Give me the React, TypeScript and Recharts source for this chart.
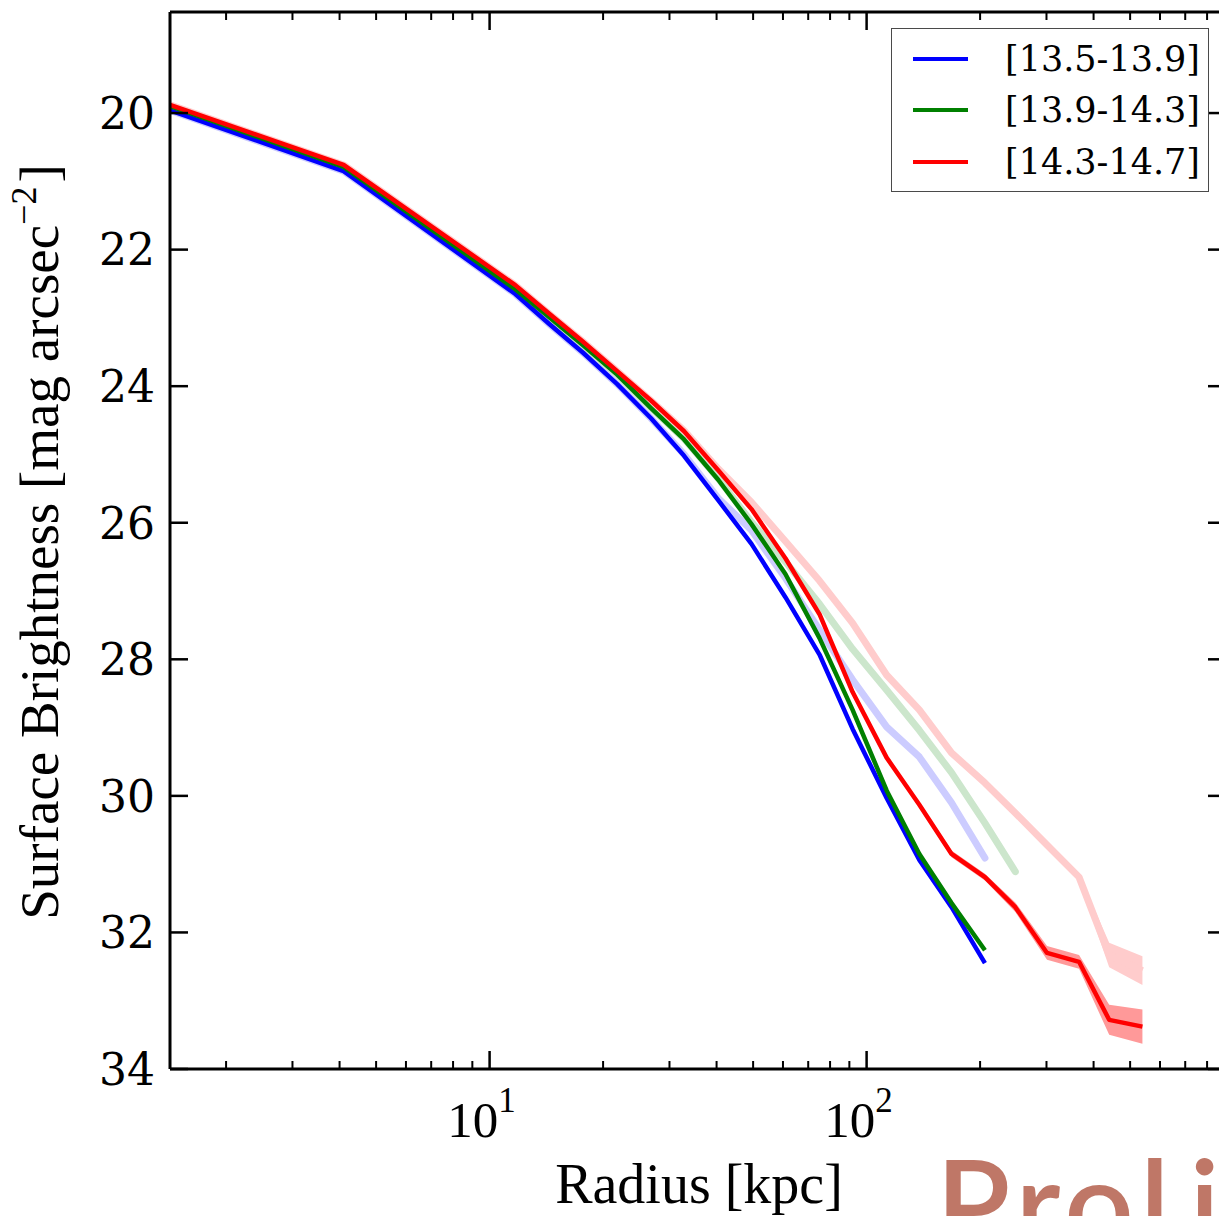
import React from "react"
import { ComposedChart, Line, Area, XAxis, YAxis, Legend } from "recharts"

// radial bins [kpc]
const radius = [1.42, 4.1, 11.7, 14.4, 17.7, 21.8, 26.8, 32.8, 40.4, 49.5, 60.9, 75, 91.8, 113, 138, 168, 206, 248, 301, 366, 440, 539]

// median profiles [mag arcsec^-2]
const blueProfile = [19.96, 20.85, 22.65, 23.09, 23.51, 23.97, 24.47, 25.02, 25.67, 26.31, 27.09, 27.93, 29.02, 30.03, 30.94, 31.63, 32.45, null, null, null, null, null]
const greenProfile = [19.9, 20.79, 22.58, 22.99, 23.4, 23.83, 24.32, 24.78, 25.37, 26.02, 26.75, 27.69, 28.74, 29.92, 30.85, 31.57, 32.26, null, null, null, null, null]
const redProfile = [19.88, 20.76, 22.52, 22.94, 23.35, 23.78, 24.21, 24.66, 25.23, 25.8, 26.52, 27.34, 28.48, 29.44, 30.13, 30.85, 31.19, 31.63, 32.3, 32.43, 33.28, 33.38]
const redErr = [0.02, 0.02, 0.02, 0.02, 0.02, 0.02, 0.02, 0.02, 0.02, 0.02, 0.02, 0.02, 0.03, 0.03, 0.04, 0.05, 0.05, 0.07, 0.1, 0.1, 0.22, 0.25]

// faint (total light) profiles
const blueFaint = [19.96, 20.85, 22.65, 23.09, 23.51, 23.97, 24.47, 25.0, 25.64, 26.11, 26.81, 27.57, 28.3, 28.99, 29.43, 30.1, 30.91, null, null, null, null, null]
const greenFaint = [19.9, 20.79, 22.58, 22.99, 23.4, 23.83, 24.32, 24.77, 25.35, 25.99, 26.57, 27.19, 27.85, 28.45, 29.04, 29.66, 30.4, 31.11, null, null, null, null]
const redFaint = [19.88, 20.76, 22.52, 22.94, 23.35, 23.78, 24.21, 24.65, 25.21, 25.7, 26.27, 26.85, 27.47, 28.23, 28.74, 29.37, 29.81, 30.25, 30.72, 31.19, 32.33, 32.56]
const redFaintErr = [0.02, 0.02, 0.02, 0.02, 0.02, 0.02, 0.02, 0.02, 0.02, 0.02, 0.02, 0.02, 0.02, 0.02, 0.03, 0.03, 0.03, 0.04, 0.04, 0.05, 0.18, 0.21]

const binLabels = ["[13.5-13.9]", "[13.9-14.3]", "[14.3-14.7]"]

const xMajor = [10, 100]
const xMinor = [2, 3, 4, 5, 6, 7, 8, 9, 20, 30, 40, 50, 60, 70, 80, 90, 200, 300, 400, 500, 600, 700, 800]
const yTicks = [20, 22, 24, 26, 28, 30, 32, 34]

const X_DOMAIN: [number, number] = [1.42, 898]
const Y_DOMAIN: [number, number] = [18.52, 34]

const SERIF = "'DejaVu Serif', serif"
const LABEL_FONT = "'Liberation Serif', 'DejaVu Serif', serif"

const rows = radius.map((r, i) => ({
  r,
  blue: blueProfile[i],
  green: greenProfile[i],
  red: redProfile[i],
  redBand: [redProfile[i] - redErr[i], redProfile[i] + redErr[i]],
  blueFaint: blueFaint[i],
  greenFaint: greenFaint[i],
  redFaint: redFaint[i],
  redFaintBand: [redFaint[i] - redFaintErr[i], redFaint[i] + redFaintErr[i]],
}))

const allXTicks = [...xMinor, ...xMajor].sort((a, b) => a - b)

function BottomTick(props: any) {
  const { x, y, payload } = props
  const v = payload.value
  const major = xMajor.includes(v)
  return (
    <g>
      <line x1={x} y1={y} x2={x} y2={y - (major ? 18 : 8)} stroke="#000" strokeWidth={major ? 2.5 : 2} />
      {major && (
        <text x={x - 8} y={y + 68} textAnchor="middle" fontFamily={LABEL_FONT} fontSize={51} fill="#000">
          10
          <tspan dy={-25} fontSize={35}>{Math.round(Math.log10(v))}</tspan>
        </text>
      )}
    </g>
  )
}

function TopTick(props: any) {
  const { x, y, payload } = props
  const major = xMajor.includes(payload.value)
  return <line x1={x} y1={y} x2={x} y2={y + (major ? 18 : 8)} stroke="#000" strokeWidth={major ? 2.5 : 2} />
}

function LeftTick(props: any) {
  const { x, y, payload } = props
  return (
    <g>
      <line x1={x} y1={y} x2={x + 18} y2={y} stroke="#000" strokeWidth={2.5} />
      <text x={x - 15} y={y} dy="0.36em" textAnchor="end" fontFamily={SERIF} fontSize={44} fill="#000">
        {payload.value}
      </text>
    </g>
  )
}

function RightTick(props: any) {
  const { x, y } = props
  return <line x1={x} y1={y} x2={x - 18} y2={y} stroke="#000" strokeWidth={2.5} />
}

function YTitle() {
  return (
    <text transform="translate(58, 542) rotate(-90)" x={0} y={0} textAnchor="middle" fontFamily={LABEL_FONT} fontSize={55} fill="#000">
      Surface Brightness [mag arcsec
      <tspan dy={-22} fontSize={36}>−2</tspan>
      <tspan dy={22} dx={4}>]</tspan>
    </text>
  )
}

function XTitle() {
  return (
    <text x={699} y={1203} textAnchor="middle" fontFamily={LABEL_FONT} fontSize={56} fill="#000">
      Radius [kpc]
    </text>
  )
}

function LegendBox(props: any) {
  const items = (props.payload || []).filter((p: any) => binLabels.includes(p.value))
  return (
    <div
      style={{
        width: 318,
        height: 164,
        boxSizing: "border-box",
        border: "1.5px solid #4a4a4a",
        background: "#fff",
        paddingTop: 4,
      }}
    >
      {items.map((entry: any) => (
        <div key={entry.value} style={{ display: "flex", alignItems: "center", height: 51.5 }}>
          <span style={{ display: "inline-block", width: 55, height: 4, marginLeft: 21, background: entry.color }} />
          <span style={{ marginLeft: 37, fontFamily: SERIF, fontSize: 35, lineHeight: "40px", color: "#000" }}>
            {entry.value}
          </span>
        </div>
      ))}
    </div>
  )
}

export default function App() {
  return (
    <div style={{ position: "absolute", left: 0, top: 0, width: 1219, height: 1216, overflow: "hidden", background: "#fff" }}>
      <ComposedChart width={1240} height={1216} data={rows} margin={{ top: 11, right: 13, bottom: 146, left: 169 }}>
        <XAxis
          xAxisId="bottom"
          dataKey="r"
          type="number"
          scale="log"
          domain={X_DOMAIN}
          allowDataOverflow
          ticks={allXTicks}
          interval={0}
          height={1}
          tickSize={0}
          tickMargin={0}
          tickLine={false}
          tick={<BottomTick />}
          axisLine={{ stroke: "#000", strokeWidth: 3 }}
          label={<XTitle />}
        />
        <XAxis
          xAxisId="top"
          orientation="top"
          dataKey="r"
          type="number"
          scale="log"
          domain={X_DOMAIN}
          allowDataOverflow
          ticks={allXTicks}
          interval={0}
          height={1}
          tickSize={0}
          tickMargin={0}
          tickLine={false}
          tick={<TopTick />}
          axisLine={{ stroke: "#000", strokeWidth: 3 }}
        />
        <YAxis
          yAxisId="left"
          type="number"
          reversed
          domain={Y_DOMAIN}
          allowDataOverflow
          ticks={yTicks}
          interval={0}
          width={1}
          tickSize={0}
          tickMargin={0}
          tickLine={false}
          tick={<LeftTick />}
          axisLine={{ stroke: "#000", strokeWidth: 3 }}
          label={<YTitle />}
        />
        <YAxis
          yAxisId="right"
          orientation="right"
          type="number"
          reversed
          domain={Y_DOMAIN}
          allowDataOverflow
          ticks={yTicks}
          interval={0}
          width={1}
          tickSize={0}
          tickMargin={0}
          tickLine={false}
          tick={<RightTick />}
          axisLine={{ stroke: "#000", strokeWidth: 3 }}
        />

        {/* faint profiles */}
        <Area xAxisId="bottom" yAxisId="left" type="linear" dataKey="redFaintBand" stroke="none" fill="#ffcccc" fillOpacity={1} legendType="none" isAnimationActive={false} />
        <Line xAxisId="bottom" yAxisId="left" type="linear" dataKey="blueFaint" stroke="#ccccff" strokeWidth={7} strokeLinejoin="round" strokeLinecap="round" dot={false} activeDot={false} legendType="none" isAnimationActive={false} />
        <Line xAxisId="bottom" yAxisId="left" type="linear" dataKey="greenFaint" stroke="#cce6cc" strokeWidth={7} strokeLinejoin="round" strokeLinecap="round" dot={false} activeDot={false} legendType="none" isAnimationActive={false} />
        <Line xAxisId="bottom" yAxisId="left" type="linear" dataKey="redFaint" stroke="#ffcccc" strokeWidth={7} strokeLinejoin="round" dot={false} activeDot={false} legendType="none" isAnimationActive={false} />

        {/* error band of the massive bin */}
        <Area xAxisId="bottom" yAxisId="left" type="linear" dataKey="redBand" stroke="none" fill="#ff9999" fillOpacity={1} legendType="none" isAnimationActive={false} />

        {/* median profiles */}
        <Line xAxisId="bottom" yAxisId="left" type="linear" dataKey="blue" name={binLabels[0]} stroke="#0000ff" strokeWidth={4.5} strokeLinejoin="round" dot={false} activeDot={false} isAnimationActive={false} />
        <Line xAxisId="bottom" yAxisId="left" type="linear" dataKey="green" name={binLabels[1]} stroke="#008000" strokeWidth={4.5} strokeLinejoin="round" dot={false} activeDot={false} isAnimationActive={false} />
        <Line xAxisId="bottom" yAxisId="left" type="linear" dataKey="red" name={binLabels[2]} stroke="#ff0000" strokeWidth={4.5} strokeLinejoin="round" dot={false} activeDot={false} isAnimationActive={false} />

        <Legend
          layout="vertical"
          align="center"
          verticalAlign="middle"
          content={<LegendBox />}
          wrapperStyle={{ left: 891, top: 28, width: 318, height: 164 }}
        />
      </ComposedChart>
      <svg width={1219} height={1216} style={{ position: "absolute", left: 0, top: 0, pointerEvents: "none" }}>
        <text x={936} y={1248} fontFamily="Lato, 'Open Sans', sans-serif" fontWeight={600} fontSize={122} letterSpacing={6} fill="#bf7767">
          Prol<tspan dx={14}>ific</tspan>
        </text>
      </svg>
    </div>
  )
}
